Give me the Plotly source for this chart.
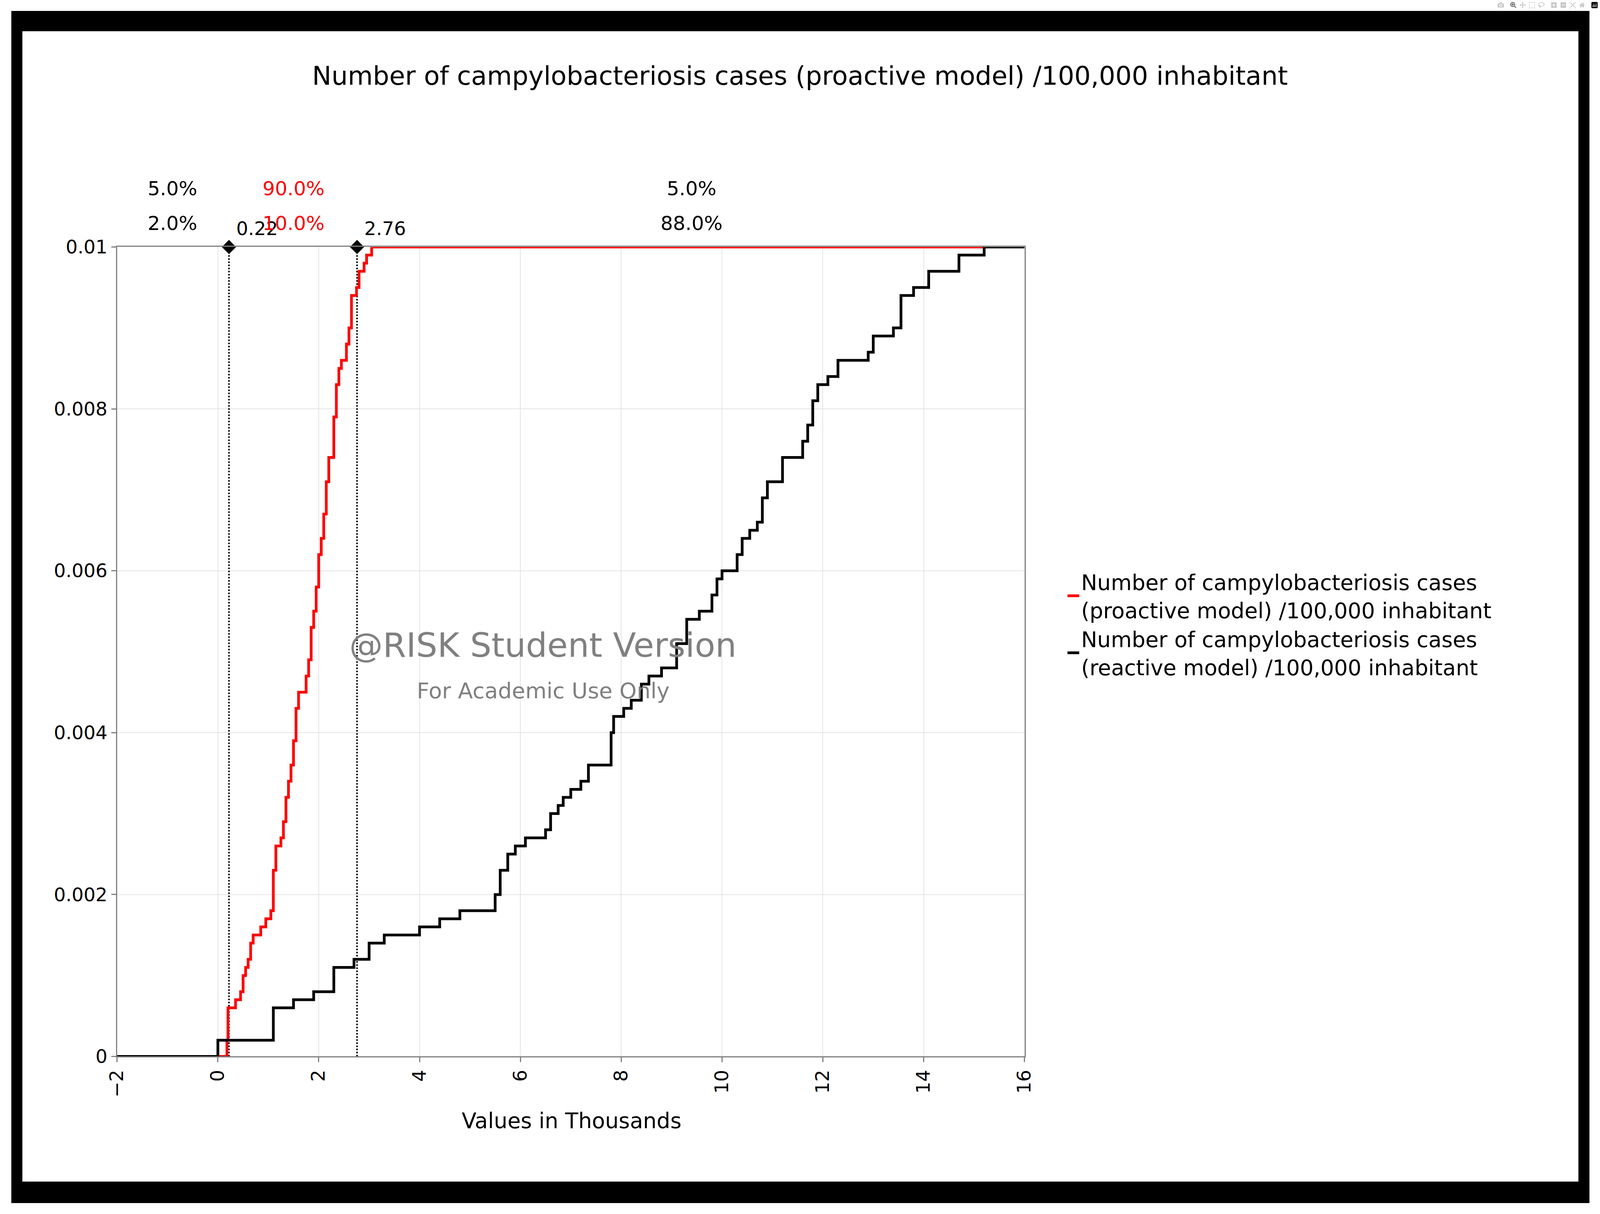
import plotly.graph_objects as go

# proactive model (red) step points, values in thousands
pro_x = [-2, 0.18, 0.18, 0.2, 0.35, 0.45, 0.5, 0.55, 0.6, 0.65, 0.7, 0.85, 0.95, 1.05, 1.1, 1.15,
         1.25, 1.3, 1.35, 1.4, 1.45, 1.5, 1.55, 1.6, 1.75, 1.8, 1.85, 1.9, 1.95, 2.0, 2.05, 2.1,
         2.15, 2.2, 2.3, 2.35, 2.4, 2.45, 2.55, 2.6, 2.65, 2.75, 2.8, 2.9, 2.95, 3.05, 15.2]
pro_y = [0, 0, 0.0002, 0.0006, 0.0007, 0.0008, 0.001, 0.0011, 0.0012, 0.0014, 0.0015, 0.0016,
         0.0017, 0.0018, 0.0023, 0.0026, 0.0027, 0.0029, 0.0032, 0.0034, 0.0036, 0.0039, 0.0043,
         0.0045, 0.0047, 0.0049, 0.0053, 0.0055, 0.0058, 0.0062, 0.0064, 0.0067, 0.0071, 0.0074,
         0.0079, 0.0083, 0.0085, 0.0086, 0.0088, 0.009, 0.0094, 0.0095, 0.0097, 0.0098, 0.0099,
         0.01, 0.01]

# reactive model (black)
rea_x = [-2, 0, 0, 1.1, 1.5, 1.9, 2.3, 2.7, 3.0, 3.3, 4.0, 4.4, 4.8, 5.5, 5.6, 5.75, 5.9, 6.1,
         6.5, 6.6, 6.75, 6.85, 7.0, 7.2, 7.35, 7.8, 7.85, 8.05, 8.2, 8.4, 8.55, 8.8, 9.1, 9.3,
         9.55, 9.8, 9.9, 10.0, 10.3, 10.4, 10.55, 10.7, 10.8, 10.9, 11.2, 11.6, 11.7, 11.8, 11.9,
         12.1, 12.3, 12.9, 13.0, 13.4, 13.55, 13.8, 14.1, 14.7, 15.2, 16]
rea_y = [0, 0, 0.0002, 0.0006, 0.0007, 0.0008, 0.0011, 0.0012, 0.0014, 0.0015, 0.0016, 0.0017,
         0.0018, 0.002, 0.0023, 0.0025, 0.0026, 0.0027, 0.0028, 0.003, 0.0031, 0.0032, 0.0033,
         0.0034, 0.0036, 0.004, 0.0042, 0.0043, 0.0044, 0.0046, 0.0047, 0.0048, 0.0051, 0.0054,
         0.0055, 0.0057, 0.0059, 0.006, 0.0062, 0.0064, 0.0065, 0.0066, 0.0069, 0.0071, 0.0074,
         0.0076, 0.0078, 0.0081, 0.0083, 0.0084, 0.0086, 0.0087, 0.0089, 0.009, 0.0094, 0.0095,
         0.0097, 0.0099, 0.01, 0.01]

marks = [0.22, 2.76]
pct_x = [-0.9, 1.5, 9.4]
pct_top = ["5.0%", "90.0%", "5.0%"]
pct_bot = ["2.0%", "10.0%", "88.0%"]
pct_col = ["black", "red", "black"]

y_ticks = [0, 0.002, 0.004, 0.006, 0.008, 0.01]
y_labels = ["0", "0.002", "0.004", "0.006", "0.008", "0.01"]

FONT = "DejaVu Sans"
fig = go.Figure()

for m in marks:
    fig.add_trace(go.Scatter(x=[m, m], y=[0, 0.01], mode="lines", showlegend=False,
                             line=dict(color="black", width=4, dash="dot")))

fig.add_trace(go.Scatter(
    x=pro_x, y=pro_y, mode="lines", line_shape="hv",
    line=dict(color="#ff0000", width=7),
    name="Number of campylobacteriosis cases<br>(proactive model) /100,000 inhabitant"))
fig.add_trace(go.Scatter(
    x=rea_x, y=rea_y, mode="lines", line_shape="hv",
    line=dict(color="black", width=7),
    name="Number of campylobacteriosis cases<br>(reactive model) /100,000 inhabitant"))

fig.add_trace(go.Scatter(
    x=marks, y=[0.01, 0.01], mode="markers+text", showlegend=False,
    marker=dict(symbol="diamond", size=28, color="black"),
    text=[f"{m:.2f}" for m in marks], textposition="top right",
    textfont=dict(size=48, color="black", family=FONT), cliponaxis=False))

for xx, t, b, c in zip(pct_x, pct_top, pct_bot, pct_col):
    fig.add_annotation(x=xx, y=0.861, yref="paper", text=t, showarrow=False,
                       font=dict(size=50, color=c, family=FONT))
    fig.add_annotation(x=xx, y=0.832, yref="paper", text=b, showarrow=False,
                       font=dict(size=50, color=c, family=FONT))

# watermark
fig.add_annotation(x=6.45, y=0.00508, text="@RISK Student Version", showarrow=False,
                   font=dict(size=86, color="#808080", family=FONT))
fig.add_annotation(x=6.45, y=0.00452, text="For Academic Use Only", showarrow=False,
                   font=dict(size=56, color="#808080", family=FONT))

fig.add_annotation(x=0.355, y=0.058, xref="paper", yref="paper",
                   text="Values in Thousands", showarrow=False,
                   font=dict(size=55, color="black", family=FONT))

# black frame around the page
for r in [(0, 0, 0.007, 1), (0.993, 0, 1, 1), (0, 0.983, 1, 1), (0, 0, 1, 0.018)]:
    fig.add_shape(type="rect", xref="paper", yref="paper", x0=r[0], y0=r[1], x1=r[2], y1=r[3],
                  fillcolor="black", line_width=0, layer="above")

fig.update_layout(
    margin=dict(l=0, r=0, t=0, b=0),
    paper_bgcolor="white", plot_bgcolor="white",
    font=dict(family=FONT, color="black"),
    title=dict(text="Number of campylobacteriosis cases (proactive model) /100,000 inhabitant",
               x=0.5, y=0.945, xanchor="center", font=dict(size=66, family=FONT)),
    xaxis=dict(domain=[0.067, 0.642], range=[-2, 16], dtick=2, tickangle=-90,
               showgrid=True, gridcolor="#e4e4e4", gridwidth=2, zeroline=False,
               showline=True, linecolor="#808080", linewidth=3, mirror=True,
               ticks="outside", tickcolor="#808080", ticklen=12, tickwidth=3,
               tickfont=dict(size=48)),
    yaxis=dict(domain=[0.123, 0.802], range=[0, 0.01], tickvals=y_ticks, ticktext=y_labels,
               showgrid=True, gridcolor="#e4e4e4", gridwidth=2, zeroline=False,
               showline=True, linecolor="#808080", linewidth=3, mirror=True,
               ticks="outside", tickcolor="#808080", ticklen=12, tickwidth=3,
               tickfont=dict(size=48)),
    legend=dict(x=0.668, y=0.535, xanchor="left", yanchor="top",
                font=dict(size=55, family=FONT), tracegroupgap=25,
                bgcolor="rgba(0,0,0,0)"),
)

post = """
document.documentElement.style.height='100%';
document.body.style.height='100%';
document.body.style.margin='0';
document.body.style.overflow='hidden';
var gd=document.getElementById('{plot_id}');
gd.style.height='100%'; gd.style.width='100%';
Plotly.Plots.resize(gd);
"""
fig.write_html("out.html", default_width="100%", default_height="100%", post_script=post)
